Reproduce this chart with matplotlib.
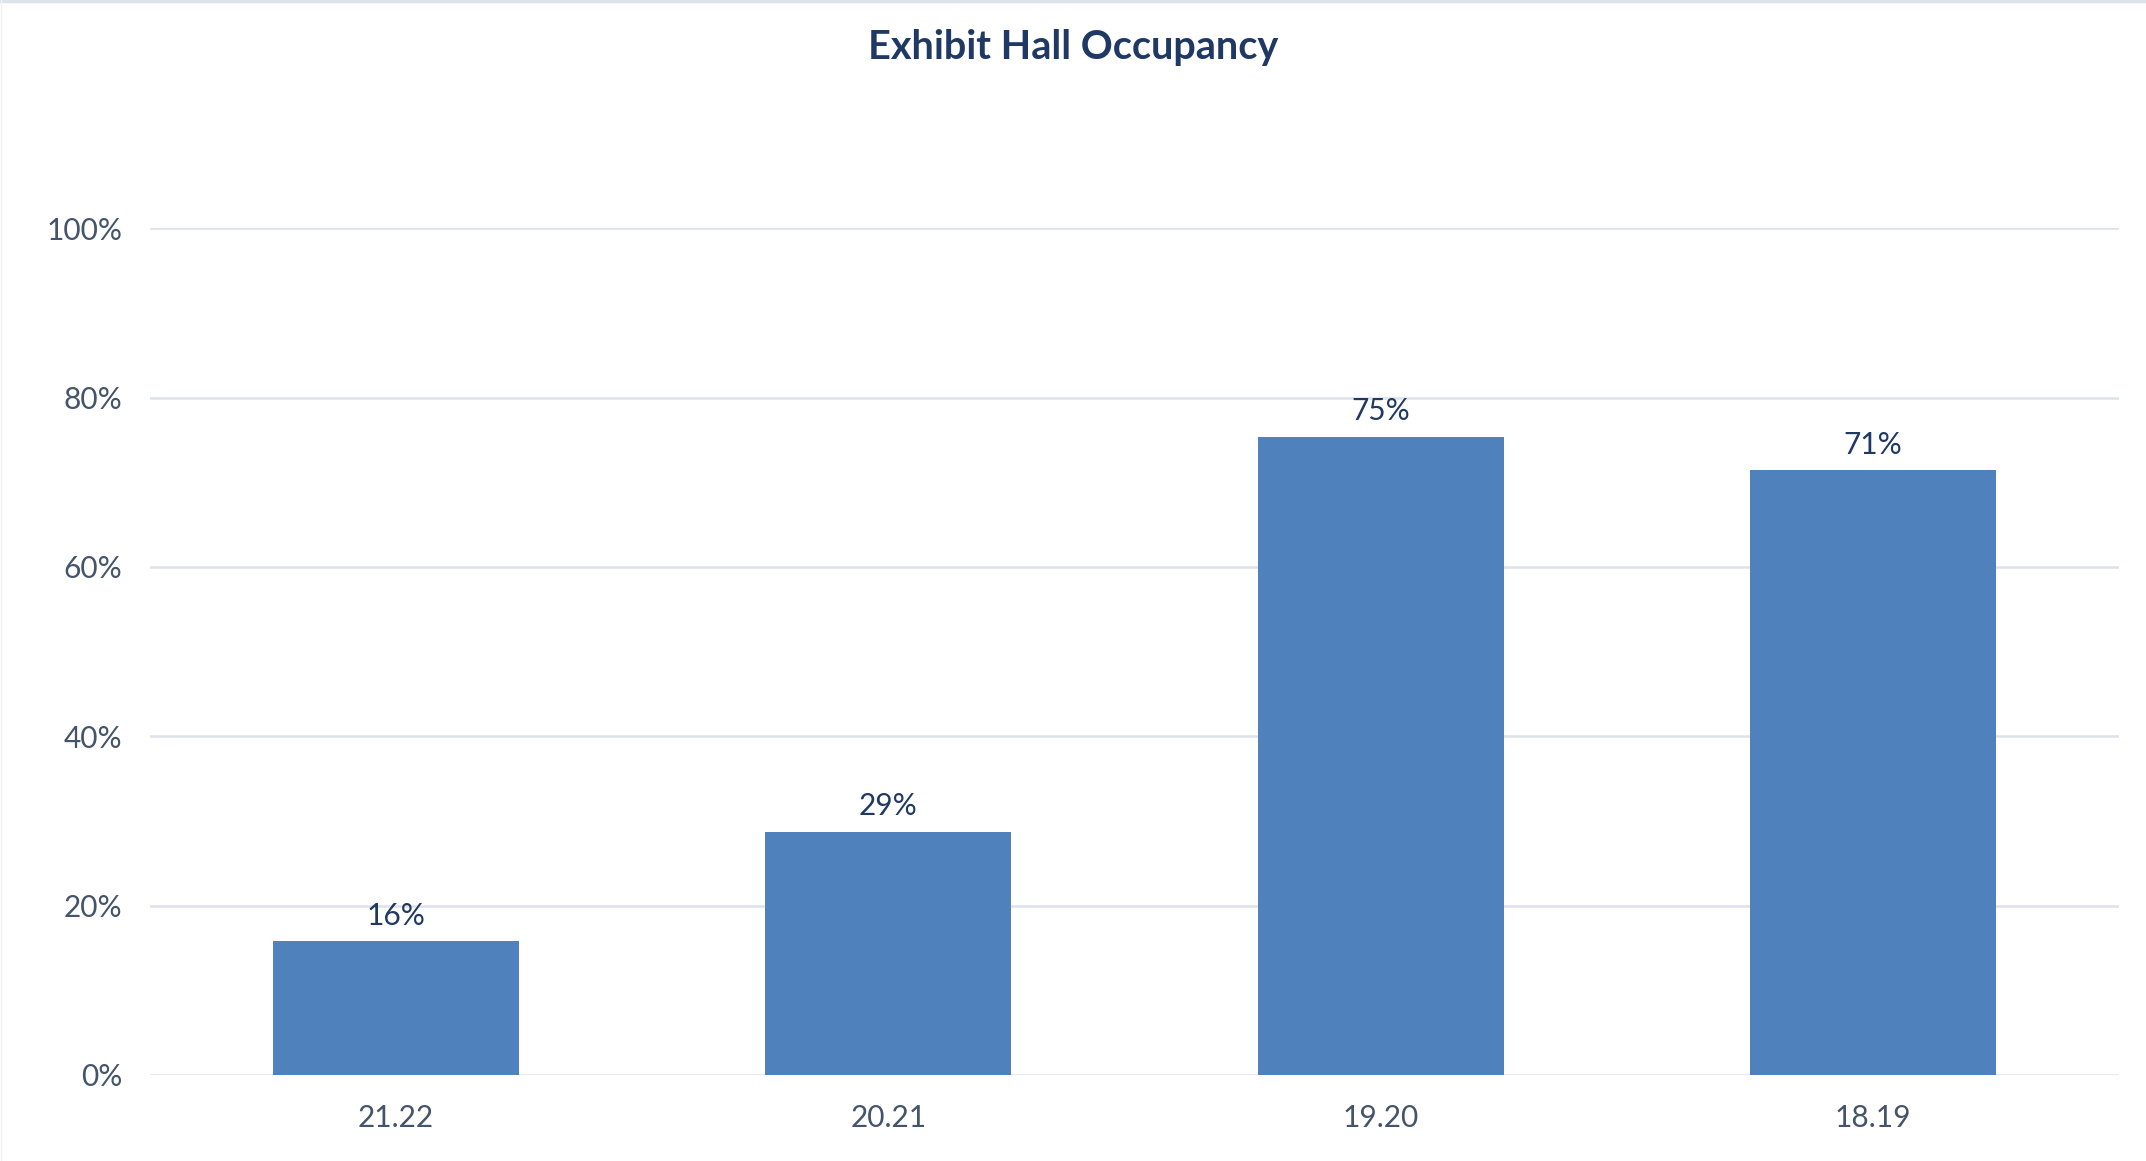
import matplotlib.pyplot as plt
from matplotlib.lines import Line2D
from matplotlib.ticker import PercentFormatter

plt.rcParams['font.family'] = ['Lato', 'DejaVu Sans']

# data
seasons = ['21.22', '20.21', '19.20', '18.19']
occupancy = [0.158, 0.287, 0.754, 0.714]
labels = ['16%', '29%', '75%', '71%']

bar_color = '#4F81BD'
navy = '#1F3864'
tick_color = '#44546A'
grid_color = '#DDE2EA'

fig = plt.figure(figsize=(21.46, 11.61), dpi=100)
ax = fig.add_axes([150 / 2146, 1 - 1075 / 1161, 1969 / 2146, (1075 - 228.3) / 1161])

x = range(len(seasons))
bars = ax.bar(x, occupancy, width=0.5, color=bar_color, zorder=2)

for rect, lab in zip(bars, labels):
    ax.annotate(lab, xy=(rect.get_x() + rect.get_width() / 2, rect.get_height()),
                xytext=(0, 12), textcoords='offset points',
                ha='center', va='baseline', fontsize=21.5, color=navy)

ax.set_xlim(-0.5, 3.5)
ax.set_ylim(0, 1)
ax.set_yticks([0, 0.2, 0.4, 0.6, 0.8, 1.0])
ax.yaxis.set_major_formatter(PercentFormatter(1.0, decimals=0))
ax.set_xticks(list(x))
ax.set_xticklabels(seasons)
ax.tick_params(axis='both', length=0, labelsize=21.5, labelcolor=tick_color)
ax.tick_params(axis='y', pad=20)
ax.tick_params(axis='x', pad=21)

ax.grid(axis='y', color=grid_color, linewidth=1.8, zorder=0)
ax.set_axisbelow(True)
for s in ax.spines.values():
    s.set_visible(False)

fig.text(0.5, 1 - 48 / 1161, 'Exhibit Hall Occupancy', ha='center', va='center',
         fontsize=28.5, fontweight='bold', color=navy)

# faint chart border, top and left only
fig.add_artist(Line2D([0, 1], [0.999, 0.999], transform=fig.transFigure,
                      color='#DEE3EA', linewidth=2.5))
fig.add_artist(Line2D([0.0003, 0.0003], [0, 1], transform=fig.transFigure,
                      color='#F2F2F2', linewidth=1))

fig.savefig('out.png', dpi=100, facecolor='white')
